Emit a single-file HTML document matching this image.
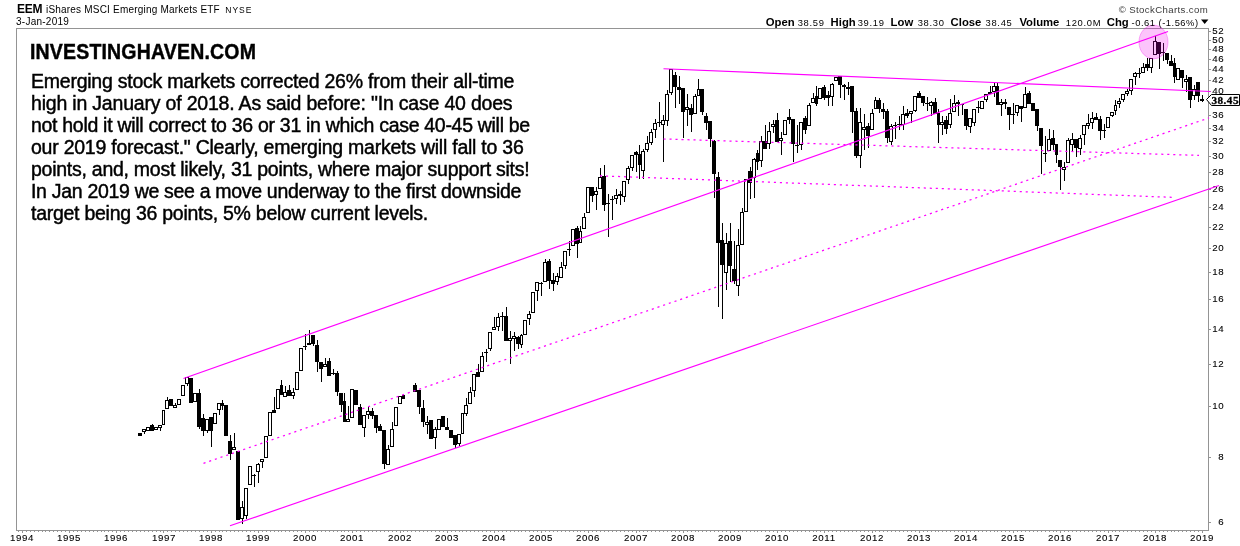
<!DOCTYPE html>
<html lang="en"><head><meta charset="utf-8"><title>EEM iShares MSCI Emerging Markets ETF</title>
<style>
html,body{margin:0;padding:0;background:#fff;}
body{width:1240px;height:546px;position:relative;overflow:hidden;font-family:"Liberation Sans",Arial,sans-serif;color:#000;}
svg{position:absolute;left:0;top:0;}
.t{position:absolute;white-space:nowrap;line-height:1;}
#hdr1{left:17px;top:3px;font-size:11px;}
#hdr1 b{font-size:12.5px;letter-spacing:-0.2px;}
#hdr1 .ex{font-size:8.5px;letter-spacing:1px;margin-left:4px;}
#hdr2{left:16px;top:17px;font-size:10px;letter-spacing:0.25px;}
#copy{right:32px;top:4px;font-size:10px;color:#555;letter-spacing:0.55px;}
#ohlc{right:31px;top:16px;font-size:10.5px;}
#ohlc b{font-size:11px;}
#ohlc span{margin-left:5px;}
#title{left:30px;top:41px;font-size:19.5px;font-weight:bold;letter-spacing:0.18px;-webkit-text-stroke:0.4px #000;transform:scaleY(1.10);transform-origin:0 0;}
.ln{position:absolute;left:31px;font-size:19.5px;line-height:21.85px;white-space:nowrap;-webkit-text-stroke:0.45px #000;}
</style></head><body>
<svg width="1240" height="546" viewBox="0 0 1240 546">
<rect width="1240" height="546" fill="#fff"/>
<g shape-rendering="crispEdges" fill="#949494">
<rect x="16" y="28" width="1193" height="1"/>
<rect x="16" y="530" width="1193" height="1"/>
<rect x="16" y="28" width="1" height="503"/>
<rect x="1208" y="28" width="1" height="503"/>
<rect x="18" y="531" width="1" height="1"/>
<rect x="22" y="531" width="1" height="2"/>
<rect x="26" y="531" width="1" height="1"/>
<rect x="30" y="531" width="1" height="1"/>
<rect x="34" y="531" width="1" height="1"/>
<rect x="38" y="531" width="1" height="1"/>
<rect x="42" y="531" width="1" height="1"/>
<rect x="45" y="531" width="1" height="1"/>
<rect x="49" y="531" width="1" height="1"/>
<rect x="53" y="531" width="1" height="1"/>
<rect x="57" y="531" width="1" height="1"/>
<rect x="61" y="531" width="1" height="1"/>
<rect x="65" y="531" width="1" height="1"/>
<rect x="69" y="531" width="1" height="2"/>
<rect x="73" y="531" width="1" height="1"/>
<rect x="77" y="531" width="1" height="1"/>
<rect x="81" y="531" width="1" height="1"/>
<rect x="85" y="531" width="1" height="1"/>
<rect x="89" y="531" width="1" height="1"/>
<rect x="93" y="531" width="1" height="1"/>
<rect x="97" y="531" width="1" height="1"/>
<rect x="101" y="531" width="1" height="1"/>
<rect x="104" y="531" width="1" height="1"/>
<rect x="108" y="531" width="1" height="1"/>
<rect x="112" y="531" width="1" height="1"/>
<rect x="116" y="531" width="1" height="2"/>
<rect x="120" y="531" width="1" height="1"/>
<rect x="124" y="531" width="1" height="1"/>
<rect x="128" y="531" width="1" height="1"/>
<rect x="132" y="531" width="1" height="1"/>
<rect x="136" y="531" width="1" height="1"/>
<rect x="140" y="531" width="1" height="1"/>
<rect x="144" y="531" width="1" height="1"/>
<rect x="148" y="531" width="1" height="1"/>
<rect x="152" y="531" width="1" height="1"/>
<rect x="156" y="531" width="1" height="1"/>
<rect x="160" y="531" width="1" height="1"/>
<rect x="163" y="531" width="1" height="2"/>
<rect x="167" y="531" width="1" height="1"/>
<rect x="171" y="531" width="1" height="1"/>
<rect x="175" y="531" width="1" height="1"/>
<rect x="179" y="531" width="1" height="1"/>
<rect x="183" y="531" width="1" height="1"/>
<rect x="187" y="531" width="1" height="1"/>
<rect x="191" y="531" width="1" height="1"/>
<rect x="195" y="531" width="1" height="1"/>
<rect x="199" y="531" width="1" height="1"/>
<rect x="203" y="531" width="1" height="1"/>
<rect x="207" y="531" width="1" height="1"/>
<rect x="211" y="531" width="1" height="2"/>
<rect x="215" y="531" width="1" height="1"/>
<rect x="219" y="531" width="1" height="1"/>
<rect x="222" y="531" width="1" height="1"/>
<rect x="226" y="531" width="1" height="1"/>
<rect x="230" y="531" width="1" height="1"/>
<rect x="234" y="531" width="1" height="1"/>
<rect x="238" y="531" width="1" height="1"/>
<rect x="242" y="531" width="1" height="1"/>
<rect x="246" y="531" width="1" height="1"/>
<rect x="250" y="531" width="1" height="1"/>
<rect x="254" y="531" width="1" height="1"/>
<rect x="258" y="531" width="1" height="2"/>
<rect x="262" y="531" width="1" height="1"/>
<rect x="266" y="531" width="1" height="1"/>
<rect x="270" y="531" width="1" height="1"/>
<rect x="274" y="531" width="1" height="1"/>
<rect x="278" y="531" width="1" height="1"/>
<rect x="281" y="531" width="1" height="1"/>
<rect x="285" y="531" width="1" height="1"/>
<rect x="289" y="531" width="1" height="1"/>
<rect x="293" y="531" width="1" height="1"/>
<rect x="297" y="531" width="1" height="1"/>
<rect x="301" y="531" width="1" height="1"/>
<rect x="305" y="531" width="1" height="2"/>
<rect x="309" y="531" width="1" height="1"/>
<rect x="313" y="531" width="1" height="1"/>
<rect x="317" y="531" width="1" height="1"/>
<rect x="321" y="531" width="1" height="1"/>
<rect x="325" y="531" width="1" height="1"/>
<rect x="329" y="531" width="1" height="1"/>
<rect x="333" y="531" width="1" height="1"/>
<rect x="337" y="531" width="1" height="1"/>
<rect x="341" y="531" width="1" height="1"/>
<rect x="344" y="531" width="1" height="1"/>
<rect x="348" y="531" width="1" height="1"/>
<rect x="352" y="531" width="1" height="2"/>
<rect x="356" y="531" width="1" height="1"/>
<rect x="360" y="531" width="1" height="1"/>
<rect x="364" y="531" width="1" height="1"/>
<rect x="368" y="531" width="1" height="1"/>
<rect x="372" y="531" width="1" height="1"/>
<rect x="376" y="531" width="1" height="1"/>
<rect x="380" y="531" width="1" height="1"/>
<rect x="384" y="531" width="1" height="1"/>
<rect x="388" y="531" width="1" height="1"/>
<rect x="392" y="531" width="1" height="1"/>
<rect x="396" y="531" width="1" height="1"/>
<rect x="400" y="531" width="1" height="2"/>
<rect x="403" y="531" width="1" height="1"/>
<rect x="407" y="531" width="1" height="1"/>
<rect x="411" y="531" width="1" height="1"/>
<rect x="415" y="531" width="1" height="1"/>
<rect x="419" y="531" width="1" height="1"/>
<rect x="423" y="531" width="1" height="1"/>
<rect x="427" y="531" width="1" height="1"/>
<rect x="431" y="531" width="1" height="1"/>
<rect x="435" y="531" width="1" height="1"/>
<rect x="439" y="531" width="1" height="1"/>
<rect x="443" y="531" width="1" height="1"/>
<rect x="447" y="531" width="1" height="2"/>
<rect x="451" y="531" width="1" height="1"/>
<rect x="455" y="531" width="1" height="1"/>
<rect x="459" y="531" width="1" height="1"/>
<rect x="462" y="531" width="1" height="1"/>
<rect x="466" y="531" width="1" height="1"/>
<rect x="470" y="531" width="1" height="1"/>
<rect x="474" y="531" width="1" height="1"/>
<rect x="478" y="531" width="1" height="1"/>
<rect x="482" y="531" width="1" height="1"/>
<rect x="486" y="531" width="1" height="1"/>
<rect x="490" y="531" width="1" height="1"/>
<rect x="494" y="531" width="1" height="2"/>
<rect x="498" y="531" width="1" height="1"/>
<rect x="502" y="531" width="1" height="1"/>
<rect x="506" y="531" width="1" height="1"/>
<rect x="510" y="531" width="1" height="1"/>
<rect x="514" y="531" width="1" height="1"/>
<rect x="518" y="531" width="1" height="1"/>
<rect x="521" y="531" width="1" height="1"/>
<rect x="525" y="531" width="1" height="1"/>
<rect x="529" y="531" width="1" height="1"/>
<rect x="533" y="531" width="1" height="1"/>
<rect x="537" y="531" width="1" height="1"/>
<rect x="541" y="531" width="1" height="2"/>
<rect x="545" y="531" width="1" height="1"/>
<rect x="549" y="531" width="1" height="1"/>
<rect x="553" y="531" width="1" height="1"/>
<rect x="557" y="531" width="1" height="1"/>
<rect x="561" y="531" width="1" height="1"/>
<rect x="565" y="531" width="1" height="1"/>
<rect x="569" y="531" width="1" height="1"/>
<rect x="573" y="531" width="1" height="1"/>
<rect x="577" y="531" width="1" height="1"/>
<rect x="580" y="531" width="1" height="1"/>
<rect x="584" y="531" width="1" height="1"/>
<rect x="588" y="531" width="1" height="2"/>
<rect x="592" y="531" width="1" height="1"/>
<rect x="596" y="531" width="1" height="1"/>
<rect x="600" y="531" width="1" height="1"/>
<rect x="604" y="531" width="1" height="1"/>
<rect x="608" y="531" width="1" height="1"/>
<rect x="612" y="531" width="1" height="1"/>
<rect x="616" y="531" width="1" height="1"/>
<rect x="620" y="531" width="1" height="1"/>
<rect x="624" y="531" width="1" height="1"/>
<rect x="628" y="531" width="1" height="1"/>
<rect x="632" y="531" width="1" height="1"/>
<rect x="636" y="531" width="1" height="2"/>
<rect x="639" y="531" width="1" height="1"/>
<rect x="643" y="531" width="1" height="1"/>
<rect x="647" y="531" width="1" height="1"/>
<rect x="651" y="531" width="1" height="1"/>
<rect x="655" y="531" width="1" height="1"/>
<rect x="659" y="531" width="1" height="1"/>
<rect x="663" y="531" width="1" height="1"/>
<rect x="667" y="531" width="1" height="1"/>
<rect x="671" y="531" width="1" height="1"/>
<rect x="675" y="531" width="1" height="1"/>
<rect x="679" y="531" width="1" height="1"/>
<rect x="683" y="531" width="1" height="2"/>
<rect x="687" y="531" width="1" height="1"/>
<rect x="691" y="531" width="1" height="1"/>
<rect x="695" y="531" width="1" height="1"/>
<rect x="698" y="531" width="1" height="1"/>
<rect x="702" y="531" width="1" height="1"/>
<rect x="706" y="531" width="1" height="1"/>
<rect x="710" y="531" width="1" height="1"/>
<rect x="714" y="531" width="1" height="1"/>
<rect x="718" y="531" width="1" height="1"/>
<rect x="722" y="531" width="1" height="1"/>
<rect x="726" y="531" width="1" height="1"/>
<rect x="730" y="531" width="1" height="2"/>
<rect x="734" y="531" width="1" height="1"/>
<rect x="738" y="531" width="1" height="1"/>
<rect x="742" y="531" width="1" height="1"/>
<rect x="746" y="531" width="1" height="1"/>
<rect x="750" y="531" width="1" height="1"/>
<rect x="754" y="531" width="1" height="1"/>
<rect x="757" y="531" width="1" height="1"/>
<rect x="761" y="531" width="1" height="1"/>
<rect x="765" y="531" width="1" height="1"/>
<rect x="769" y="531" width="1" height="1"/>
<rect x="773" y="531" width="1" height="1"/>
<rect x="777" y="531" width="1" height="2"/>
<rect x="781" y="531" width="1" height="1"/>
<rect x="785" y="531" width="1" height="1"/>
<rect x="789" y="531" width="1" height="1"/>
<rect x="793" y="531" width="1" height="1"/>
<rect x="797" y="531" width="1" height="1"/>
<rect x="801" y="531" width="1" height="1"/>
<rect x="805" y="531" width="1" height="1"/>
<rect x="809" y="531" width="1" height="1"/>
<rect x="813" y="531" width="1" height="1"/>
<rect x="816" y="531" width="1" height="1"/>
<rect x="820" y="531" width="1" height="1"/>
<rect x="824" y="531" width="1" height="2"/>
<rect x="828" y="531" width="1" height="1"/>
<rect x="832" y="531" width="1" height="1"/>
<rect x="836" y="531" width="1" height="1"/>
<rect x="840" y="531" width="1" height="1"/>
<rect x="844" y="531" width="1" height="1"/>
<rect x="848" y="531" width="1" height="1"/>
<rect x="852" y="531" width="1" height="1"/>
<rect x="856" y="531" width="1" height="1"/>
<rect x="860" y="531" width="1" height="1"/>
<rect x="864" y="531" width="1" height="1"/>
<rect x="868" y="531" width="1" height="1"/>
<rect x="872" y="531" width="1" height="2"/>
<rect x="875" y="531" width="1" height="1"/>
<rect x="879" y="531" width="1" height="1"/>
<rect x="883" y="531" width="1" height="1"/>
<rect x="887" y="531" width="1" height="1"/>
<rect x="891" y="531" width="1" height="1"/>
<rect x="895" y="531" width="1" height="1"/>
<rect x="899" y="531" width="1" height="1"/>
<rect x="903" y="531" width="1" height="1"/>
<rect x="907" y="531" width="1" height="1"/>
<rect x="911" y="531" width="1" height="1"/>
<rect x="915" y="531" width="1" height="1"/>
<rect x="919" y="531" width="1" height="2"/>
<rect x="923" y="531" width="1" height="1"/>
<rect x="927" y="531" width="1" height="1"/>
<rect x="931" y="531" width="1" height="1"/>
<rect x="935" y="531" width="1" height="1"/>
<rect x="938" y="531" width="1" height="1"/>
<rect x="942" y="531" width="1" height="1"/>
<rect x="946" y="531" width="1" height="1"/>
<rect x="950" y="531" width="1" height="1"/>
<rect x="954" y="531" width="1" height="1"/>
<rect x="958" y="531" width="1" height="1"/>
<rect x="962" y="531" width="1" height="1"/>
<rect x="966" y="531" width="1" height="2"/>
<rect x="970" y="531" width="1" height="1"/>
<rect x="974" y="531" width="1" height="1"/>
<rect x="978" y="531" width="1" height="1"/>
<rect x="982" y="531" width="1" height="1"/>
<rect x="986" y="531" width="1" height="1"/>
<rect x="990" y="531" width="1" height="1"/>
<rect x="994" y="531" width="1" height="1"/>
<rect x="997" y="531" width="1" height="1"/>
<rect x="1001" y="531" width="1" height="1"/>
<rect x="1005" y="531" width="1" height="1"/>
<rect x="1009" y="531" width="1" height="1"/>
<rect x="1013" y="531" width="1" height="2"/>
<rect x="1017" y="531" width="1" height="1"/>
<rect x="1021" y="531" width="1" height="1"/>
<rect x="1025" y="531" width="1" height="1"/>
<rect x="1029" y="531" width="1" height="1"/>
<rect x="1033" y="531" width="1" height="1"/>
<rect x="1037" y="531" width="1" height="1"/>
<rect x="1041" y="531" width="1" height="1"/>
<rect x="1045" y="531" width="1" height="1"/>
<rect x="1049" y="531" width="1" height="1"/>
<rect x="1053" y="531" width="1" height="1"/>
<rect x="1056" y="531" width="1" height="1"/>
<rect x="1060" y="531" width="1" height="2"/>
<rect x="1064" y="531" width="1" height="1"/>
<rect x="1068" y="531" width="1" height="1"/>
<rect x="1072" y="531" width="1" height="1"/>
<rect x="1076" y="531" width="1" height="1"/>
<rect x="1080" y="531" width="1" height="1"/>
<rect x="1084" y="531" width="1" height="1"/>
<rect x="1088" y="531" width="1" height="1"/>
<rect x="1092" y="531" width="1" height="1"/>
<rect x="1096" y="531" width="1" height="1"/>
<rect x="1100" y="531" width="1" height="1"/>
<rect x="1104" y="531" width="1" height="1"/>
<rect x="1108" y="531" width="1" height="2"/>
<rect x="1112" y="531" width="1" height="1"/>
<rect x="1115" y="531" width="1" height="1"/>
<rect x="1119" y="531" width="1" height="1"/>
<rect x="1123" y="531" width="1" height="1"/>
<rect x="1127" y="531" width="1" height="1"/>
<rect x="1131" y="531" width="1" height="1"/>
<rect x="1135" y="531" width="1" height="1"/>
<rect x="1139" y="531" width="1" height="1"/>
<rect x="1143" y="531" width="1" height="1"/>
<rect x="1147" y="531" width="1" height="1"/>
<rect x="1151" y="531" width="1" height="1"/>
<rect x="1155" y="531" width="1" height="2"/>
<rect x="1159" y="531" width="1" height="1"/>
<rect x="1163" y="531" width="1" height="1"/>
<rect x="1167" y="531" width="1" height="1"/>
<rect x="1171" y="531" width="1" height="1"/>
<rect x="1174" y="531" width="1" height="1"/>
<rect x="1178" y="531" width="1" height="1"/>
<rect x="1182" y="531" width="1" height="1"/>
<rect x="1186" y="531" width="1" height="1"/>
<rect x="1190" y="531" width="1" height="1"/>
<rect x="1194" y="531" width="1" height="1"/>
<rect x="1198" y="531" width="1" height="1"/>
<rect x="1202" y="531" width="1" height="2"/>
<rect x="1209" y="31" width="2" height="1"/>
<rect x="1209" y="40" width="2" height="1"/>
<rect x="1209" y="49" width="2" height="1"/>
<rect x="1209" y="59" width="2" height="1"/>
<rect x="1209" y="69" width="2" height="1"/>
<rect x="1209" y="80" width="2" height="1"/>
<rect x="1209" y="91" width="2" height="1"/>
<rect x="1209" y="115" width="2" height="1"/>
<rect x="1209" y="128" width="2" height="1"/>
<rect x="1209" y="141" width="2" height="1"/>
<rect x="1209" y="156" width="2" height="1"/>
<rect x="1209" y="172" width="2" height="1"/>
<rect x="1209" y="189" width="2" height="1"/>
<rect x="1209" y="207" width="2" height="1"/>
<rect x="1209" y="227" width="2" height="1"/>
<rect x="1209" y="248" width="2" height="1"/>
<rect x="1209" y="272" width="2" height="1"/>
<rect x="1209" y="299" width="2" height="1"/>
<rect x="1209" y="329" width="2" height="1"/>
<rect x="1209" y="364" width="2" height="1"/>
<rect x="1209" y="406" width="2" height="1"/>
<rect x="1209" y="457" width="2" height="1"/>
<rect x="1209" y="522" width="2" height="1"/>
</g>
<g font-family="Liberation Sans, Arial, sans-serif" font-size="9.7" fill="#000" stroke="#000" stroke-width="0.1" letter-spacing="0.65" text-anchor="end">
<text x="1224.3" y="34.0">52</text>
<text x="1224.3" y="43.0">50</text>
<text x="1224.3" y="52.0">48</text>
<text x="1224.3" y="62.0">46</text>
<text x="1224.3" y="72.0">44</text>
<text x="1224.3" y="83.0">42</text>
<text x="1224.3" y="94.0">40</text>
<text x="1224.3" y="118.0">36</text>
<text x="1224.3" y="131.0">34</text>
<text x="1224.3" y="144.0">32</text>
<text x="1224.3" y="159.0">30</text>
<text x="1224.3" y="175.0">28</text>
<text x="1224.3" y="192.0">26</text>
<text x="1224.3" y="210.0">24</text>
<text x="1224.3" y="230.0">22</text>
<text x="1224.3" y="251.0">20</text>
<text x="1224.3" y="275.0">18</text>
<text x="1224.3" y="302.0">16</text>
<text x="1224.3" y="332.0">14</text>
<text x="1224.3" y="367.0">12</text>
<text x="1224.3" y="409.0">10</text>
<text x="1224.3" y="460.0">8</text>
<text x="1224.3" y="525.0">6</text>
</g>
<g font-family="Liberation Sans, Arial, sans-serif" font-size="9.7" fill="#000" stroke="#000" stroke-width="0.1" text-anchor="middle" letter-spacing="0.65">
<text x="22.0" y="541">1994</text>
<text x="69.0" y="541">1995</text>
<text x="116.0" y="541">1996</text>
<text x="164.0" y="541">1997</text>
<text x="211.0" y="541">1998</text>
<text x="258.0" y="541">1999</text>
<text x="305.0" y="541">2000</text>
<text x="352.0" y="541">2001</text>
<text x="400.0" y="541">2002</text>
<text x="447.0" y="541">2003</text>
<text x="494.0" y="541">2004</text>
<text x="541.0" y="541">2005</text>
<text x="588.0" y="541">2006</text>
<text x="636.0" y="541">2007</text>
<text x="683.0" y="541">2008</text>
<text x="730.0" y="541">2009</text>
<text x="777.0" y="541">2010</text>
<text x="824.0" y="541">2011</text>
<text x="872.0" y="541">2012</text>
<text x="919.0" y="541">2013</text>
<text x="966.0" y="541">2014</text>
<text x="1013.0" y="541">2015</text>
<text x="1060.0" y="541">2016</text>
<text x="1108.0" y="541">2017</text>
<text x="1155.0" y="541">2018</text>
<text x="1202.0" y="541">2019</text>
</g>
<g shape-rendering="crispEdges">
<rect x="140" y="433" width="1" height="3" fill="#000"/>
<rect x="138" y="433" width="4" height="3" fill="#000"/>
<rect x="144" y="429" width="1" height="5" fill="#000"/>
<rect x="142" y="429" width="4" height="3" fill="#000"/>
<rect x="143" y="430" width="2" height="1" fill="#fff"/>
<rect x="148" y="427" width="1" height="4" fill="#000"/>
<rect x="146" y="427" width="4" height="4" fill="#000"/>
<rect x="147" y="428" width="2" height="2" fill="#fff"/>
<rect x="152" y="424" width="1" height="7" fill="#000"/>
<rect x="150" y="425" width="4" height="6" fill="#000"/>
<rect x="156" y="427" width="1" height="3" fill="#000"/>
<rect x="154" y="427" width="4" height="3" fill="#000"/>
<rect x="155" y="428" width="2" height="1" fill="#fff"/>
<rect x="160" y="425" width="1" height="6" fill="#000"/>
<rect x="158" y="425" width="4" height="3" fill="#000"/>
<rect x="159" y="426" width="2" height="1" fill="#fff"/>
<rect x="163" y="410" width="1" height="15" fill="#000"/>
<rect x="162" y="410" width="3" height="15" fill="#000"/>
<rect x="163" y="411" width="1" height="13" fill="#fff"/>
<rect x="167" y="397" width="1" height="12" fill="#000"/>
<rect x="165" y="400" width="4" height="9" fill="#000"/>
<rect x="166" y="401" width="2" height="7" fill="#fff"/>
<rect x="171" y="399" width="1" height="7" fill="#000"/>
<rect x="169" y="399" width="4" height="7" fill="#000"/>
<rect x="175" y="403" width="1" height="5" fill="#000"/>
<rect x="173" y="405" width="4" height="3" fill="#000"/>
<rect x="174" y="406" width="2" height="1" fill="#fff"/>
<rect x="179" y="399" width="1" height="6" fill="#000"/>
<rect x="177" y="399" width="4" height="6" fill="#000"/>
<rect x="178" y="400" width="2" height="4" fill="#fff"/>
<rect x="183" y="385" width="1" height="11" fill="#000"/>
<rect x="181" y="385" width="4" height="11" fill="#000"/>
<rect x="182" y="386" width="2" height="9" fill="#fff"/>
<rect x="187" y="377" width="1" height="9" fill="#000"/>
<rect x="185" y="377" width="4" height="7" fill="#000"/>
<rect x="186" y="378" width="2" height="5" fill="#fff"/>
<rect x="191" y="378" width="1" height="25" fill="#000"/>
<rect x="189" y="378" width="4" height="25" fill="#000"/>
<rect x="195" y="393" width="1" height="9" fill="#000"/>
<rect x="193" y="393" width="4" height="9" fill="#000"/>
<rect x="194" y="394" width="2" height="7" fill="#fff"/>
<rect x="199" y="389" width="1" height="40" fill="#000"/>
<rect x="197" y="393" width="4" height="34" fill="#000"/>
<rect x="203" y="414" width="1" height="22" fill="#000"/>
<rect x="201" y="418" width="4" height="13" fill="#000"/>
<rect x="207" y="419" width="1" height="14" fill="#000"/>
<rect x="205" y="419" width="4" height="12" fill="#000"/>
<rect x="206" y="420" width="2" height="10" fill="#fff"/>
<rect x="211" y="417" width="1" height="30" fill="#000"/>
<rect x="209" y="417" width="4" height="14" fill="#000"/>
<rect x="215" y="413" width="1" height="11" fill="#000"/>
<rect x="213" y="413" width="4" height="11" fill="#000"/>
<rect x="214" y="414" width="2" height="9" fill="#fff"/>
<rect x="219" y="403" width="1" height="12" fill="#000"/>
<rect x="217" y="403" width="4" height="7" fill="#000"/>
<rect x="218" y="404" width="2" height="5" fill="#fff"/>
<rect x="222" y="400" width="1" height="10" fill="#000"/>
<rect x="221" y="403" width="3" height="3" fill="#000"/>
<rect x="226" y="405" width="1" height="31" fill="#000"/>
<rect x="224" y="405" width="4" height="31" fill="#000"/>
<rect x="230" y="435" width="1" height="25" fill="#000"/>
<rect x="228" y="441" width="4" height="13" fill="#000"/>
<rect x="234" y="433" width="1" height="17" fill="#000"/>
<rect x="232" y="447" width="4" height="3" fill="#000"/>
<rect x="233" y="448" width="2" height="1" fill="#fff"/>
<rect x="238" y="451" width="1" height="69" fill="#000"/>
<rect x="236" y="451" width="4" height="69" fill="#000"/>
<rect x="242" y="501" width="1" height="23" fill="#000"/>
<rect x="240" y="507" width="4" height="12" fill="#000"/>
<rect x="241" y="508" width="2" height="10" fill="#fff"/>
<rect x="246" y="488" width="1" height="31" fill="#000"/>
<rect x="244" y="488" width="4" height="28" fill="#000"/>
<rect x="245" y="489" width="2" height="26" fill="#fff"/>
<rect x="250" y="466" width="1" height="19" fill="#000"/>
<rect x="248" y="466" width="4" height="19" fill="#000"/>
<rect x="249" y="467" width="2" height="17" fill="#fff"/>
<rect x="254" y="474" width="1" height="13" fill="#000"/>
<rect x="252" y="475" width="4" height="1" fill="#000"/>
<rect x="258" y="463" width="1" height="20" fill="#000"/>
<rect x="256" y="464" width="4" height="8" fill="#000"/>
<rect x="257" y="465" width="2" height="6" fill="#fff"/>
<rect x="262" y="459" width="1" height="9" fill="#000"/>
<rect x="260" y="459" width="4" height="3" fill="#000"/>
<rect x="261" y="460" width="2" height="1" fill="#fff"/>
<rect x="266" y="436" width="1" height="22" fill="#000"/>
<rect x="264" y="436" width="4" height="22" fill="#000"/>
<rect x="265" y="437" width="2" height="20" fill="#fff"/>
<rect x="270" y="412" width="1" height="24" fill="#000"/>
<rect x="268" y="412" width="4" height="24" fill="#000"/>
<rect x="269" y="413" width="2" height="22" fill="#fff"/>
<rect x="274" y="397" width="1" height="16" fill="#000"/>
<rect x="272" y="410" width="4" height="3" fill="#000"/>
<rect x="278" y="389" width="1" height="20" fill="#000"/>
<rect x="276" y="389" width="4" height="20" fill="#000"/>
<rect x="277" y="390" width="2" height="18" fill="#fff"/>
<rect x="281" y="380" width="1" height="15" fill="#000"/>
<rect x="280" y="385" width="3" height="10" fill="#000"/>
<rect x="285" y="386" width="1" height="11" fill="#000"/>
<rect x="283" y="392" width="4" height="5" fill="#000"/>
<rect x="284" y="393" width="2" height="3" fill="#fff"/>
<rect x="289" y="385" width="1" height="11" fill="#000"/>
<rect x="287" y="390" width="4" height="6" fill="#000"/>
<rect x="293" y="388" width="1" height="11" fill="#000"/>
<rect x="291" y="392" width="4" height="4" fill="#000"/>
<rect x="292" y="393" width="2" height="2" fill="#fff"/>
<rect x="297" y="372" width="1" height="18" fill="#000"/>
<rect x="295" y="372" width="4" height="18" fill="#000"/>
<rect x="296" y="373" width="2" height="16" fill="#fff"/>
<rect x="301" y="348" width="1" height="23" fill="#000"/>
<rect x="299" y="348" width="4" height="23" fill="#000"/>
<rect x="300" y="349" width="2" height="21" fill="#fff"/>
<rect x="305" y="334" width="1" height="16" fill="#000"/>
<rect x="303" y="346" width="4" height="1" fill="#000"/>
<rect x="309" y="330" width="1" height="15" fill="#000"/>
<rect x="307" y="343" width="4" height="2" fill="#000"/>
<rect x="313" y="335" width="1" height="11" fill="#000"/>
<rect x="311" y="335" width="4" height="9" fill="#000"/>
<rect x="317" y="340" width="1" height="32" fill="#000"/>
<rect x="315" y="345" width="4" height="17" fill="#000"/>
<rect x="321" y="362" width="1" height="20" fill="#000"/>
<rect x="319" y="362" width="4" height="7" fill="#000"/>
<rect x="325" y="358" width="1" height="9" fill="#000"/>
<rect x="323" y="364" width="4" height="3" fill="#000"/>
<rect x="324" y="365" width="2" height="1" fill="#fff"/>
<rect x="329" y="358" width="1" height="18" fill="#000"/>
<rect x="327" y="361" width="4" height="15" fill="#000"/>
<rect x="333" y="369" width="1" height="6" fill="#000"/>
<rect x="331" y="373" width="4" height="1" fill="#000"/>
<rect x="337" y="371" width="1" height="25" fill="#000"/>
<rect x="335" y="373" width="4" height="19" fill="#000"/>
<rect x="341" y="393" width="1" height="19" fill="#000"/>
<rect x="339" y="393" width="4" height="12" fill="#000"/>
<rect x="344" y="393" width="1" height="29" fill="#000"/>
<rect x="343" y="401" width="3" height="21" fill="#000"/>
<rect x="348" y="406" width="1" height="16" fill="#000"/>
<rect x="346" y="419" width="4" height="3" fill="#000"/>
<rect x="347" y="420" width="2" height="1" fill="#fff"/>
<rect x="352" y="389" width="1" height="29" fill="#000"/>
<rect x="350" y="389" width="4" height="29" fill="#000"/>
<rect x="351" y="390" width="2" height="27" fill="#fff"/>
<rect x="356" y="390" width="1" height="15" fill="#000"/>
<rect x="354" y="390" width="4" height="15" fill="#000"/>
<rect x="360" y="404" width="1" height="21" fill="#000"/>
<rect x="358" y="407" width="4" height="18" fill="#000"/>
<rect x="364" y="415" width="1" height="22" fill="#000"/>
<rect x="362" y="415" width="4" height="13" fill="#000"/>
<rect x="363" y="416" width="2" height="11" fill="#fff"/>
<rect x="368" y="407" width="1" height="12" fill="#000"/>
<rect x="366" y="411" width="4" height="4" fill="#000"/>
<rect x="367" y="412" width="2" height="2" fill="#fff"/>
<rect x="372" y="408" width="1" height="11" fill="#000"/>
<rect x="370" y="411" width="4" height="5" fill="#000"/>
<rect x="376" y="415" width="1" height="18" fill="#000"/>
<rect x="374" y="415" width="4" height="13" fill="#000"/>
<rect x="380" y="424" width="1" height="7" fill="#000"/>
<rect x="378" y="426" width="4" height="5" fill="#000"/>
<rect x="384" y="430" width="1" height="39" fill="#000"/>
<rect x="382" y="430" width="4" height="34" fill="#000"/>
<rect x="388" y="445" width="1" height="20" fill="#000"/>
<rect x="386" y="449" width="4" height="16" fill="#000"/>
<rect x="387" y="450" width="2" height="14" fill="#fff"/>
<rect x="392" y="422" width="1" height="25" fill="#000"/>
<rect x="390" y="429" width="4" height="18" fill="#000"/>
<rect x="391" y="430" width="2" height="16" fill="#fff"/>
<rect x="396" y="407" width="1" height="19" fill="#000"/>
<rect x="394" y="407" width="4" height="19" fill="#000"/>
<rect x="395" y="408" width="2" height="17" fill="#fff"/>
<rect x="400" y="396" width="1" height="8" fill="#000"/>
<rect x="398" y="396" width="4" height="8" fill="#000"/>
<rect x="399" y="397" width="2" height="6" fill="#fff"/>
<rect x="403" y="395" width="1" height="4" fill="#000"/>
<rect x="402" y="395" width="3" height="4" fill="#000"/>
<rect x="415" y="383" width="1" height="9" fill="#000"/>
<rect x="413" y="385" width="4" height="7" fill="#000"/>
<rect x="419" y="390" width="1" height="24" fill="#000"/>
<rect x="417" y="390" width="4" height="17" fill="#000"/>
<rect x="423" y="400" width="1" height="27" fill="#000"/>
<rect x="421" y="408" width="4" height="14" fill="#000"/>
<rect x="427" y="416" width="1" height="18" fill="#000"/>
<rect x="425" y="422" width="4" height="3" fill="#000"/>
<rect x="426" y="423" width="2" height="1" fill="#fff"/>
<rect x="431" y="420" width="1" height="19" fill="#000"/>
<rect x="429" y="420" width="4" height="19" fill="#000"/>
<rect x="435" y="427" width="1" height="22" fill="#000"/>
<rect x="433" y="429" width="4" height="9" fill="#000"/>
<rect x="434" y="430" width="2" height="7" fill="#fff"/>
<rect x="439" y="419" width="1" height="11" fill="#000"/>
<rect x="437" y="419" width="4" height="11" fill="#000"/>
<rect x="438" y="420" width="2" height="9" fill="#fff"/>
<rect x="443" y="416" width="1" height="11" fill="#000"/>
<rect x="441" y="416" width="4" height="11" fill="#000"/>
<rect x="447" y="418" width="1" height="12" fill="#000"/>
<rect x="445" y="427" width="4" height="3" fill="#000"/>
<rect x="451" y="430" width="1" height="8" fill="#000"/>
<rect x="449" y="430" width="4" height="8" fill="#000"/>
<rect x="455" y="435" width="1" height="13" fill="#000"/>
<rect x="453" y="435" width="4" height="10" fill="#000"/>
<rect x="459" y="434" width="1" height="12" fill="#000"/>
<rect x="457" y="434" width="4" height="10" fill="#000"/>
<rect x="458" y="435" width="2" height="8" fill="#fff"/>
<rect x="462" y="413" width="1" height="21" fill="#000"/>
<rect x="461" y="413" width="3" height="21" fill="#000"/>
<rect x="462" y="414" width="1" height="19" fill="#fff"/>
<rect x="466" y="398" width="1" height="18" fill="#000"/>
<rect x="464" y="405" width="4" height="9" fill="#000"/>
<rect x="465" y="406" width="2" height="7" fill="#fff"/>
<rect x="470" y="387" width="1" height="17" fill="#000"/>
<rect x="468" y="392" width="4" height="12" fill="#000"/>
<rect x="469" y="393" width="2" height="10" fill="#fff"/>
<rect x="474" y="374" width="1" height="23" fill="#000"/>
<rect x="472" y="374" width="4" height="17" fill="#000"/>
<rect x="473" y="375" width="2" height="15" fill="#fff"/>
<rect x="478" y="364" width="1" height="13" fill="#000"/>
<rect x="476" y="372" width="4" height="5" fill="#000"/>
<rect x="482" y="352" width="1" height="20" fill="#000"/>
<rect x="480" y="356" width="4" height="16" fill="#000"/>
<rect x="481" y="357" width="2" height="14" fill="#fff"/>
<rect x="486" y="349" width="1" height="13" fill="#000"/>
<rect x="484" y="352" width="4" height="1" fill="#000"/>
<rect x="490" y="332" width="1" height="19" fill="#000"/>
<rect x="488" y="332" width="4" height="17" fill="#000"/>
<rect x="489" y="333" width="2" height="15" fill="#fff"/>
<rect x="494" y="317" width="1" height="13" fill="#000"/>
<rect x="492" y="327" width="4" height="3" fill="#000"/>
<rect x="493" y="328" width="2" height="1" fill="#fff"/>
<rect x="498" y="313" width="1" height="18" fill="#000"/>
<rect x="496" y="317" width="4" height="10" fill="#000"/>
<rect x="497" y="318" width="2" height="8" fill="#fff"/>
<rect x="502" y="312" width="1" height="19" fill="#000"/>
<rect x="500" y="316" width="4" height="1" fill="#000"/>
<rect x="506" y="307" width="1" height="34" fill="#000"/>
<rect x="504" y="316" width="4" height="25" fill="#000"/>
<rect x="510" y="331" width="1" height="33" fill="#000"/>
<rect x="508" y="338" width="4" height="3" fill="#000"/>
<rect x="509" y="339" width="2" height="1" fill="#fff"/>
<rect x="514" y="332" width="1" height="19" fill="#000"/>
<rect x="512" y="336" width="4" height="3" fill="#000"/>
<rect x="513" y="337" width="2" height="1" fill="#fff"/>
<rect x="518" y="336" width="1" height="13" fill="#000"/>
<rect x="516" y="337" width="4" height="7" fill="#000"/>
<rect x="521" y="334" width="1" height="14" fill="#000"/>
<rect x="520" y="335" width="3" height="10" fill="#000"/>
<rect x="521" y="336" width="1" height="8" fill="#fff"/>
<rect x="525" y="320" width="1" height="15" fill="#000"/>
<rect x="523" y="320" width="4" height="15" fill="#000"/>
<rect x="524" y="321" width="2" height="13" fill="#fff"/>
<rect x="529" y="311" width="1" height="14" fill="#000"/>
<rect x="527" y="314" width="4" height="5" fill="#000"/>
<rect x="528" y="315" width="2" height="3" fill="#fff"/>
<rect x="533" y="292" width="1" height="21" fill="#000"/>
<rect x="531" y="292" width="4" height="21" fill="#000"/>
<rect x="532" y="293" width="2" height="19" fill="#fff"/>
<rect x="537" y="282" width="1" height="19" fill="#000"/>
<rect x="535" y="282" width="4" height="9" fill="#000"/>
<rect x="536" y="283" width="2" height="7" fill="#fff"/>
<rect x="541" y="282" width="1" height="14" fill="#000"/>
<rect x="539" y="283" width="4" height="1" fill="#000"/>
<rect x="545" y="259" width="1" height="23" fill="#000"/>
<rect x="543" y="262" width="4" height="20" fill="#000"/>
<rect x="544" y="263" width="2" height="18" fill="#fff"/>
<rect x="549" y="259" width="1" height="30" fill="#000"/>
<rect x="547" y="261" width="4" height="20" fill="#000"/>
<rect x="553" y="273" width="1" height="18" fill="#000"/>
<rect x="551" y="280" width="4" height="4" fill="#000"/>
<rect x="557" y="273" width="1" height="12" fill="#000"/>
<rect x="555" y="276" width="4" height="6" fill="#000"/>
<rect x="556" y="277" width="2" height="4" fill="#fff"/>
<rect x="561" y="262" width="1" height="16" fill="#000"/>
<rect x="559" y="267" width="4" height="11" fill="#000"/>
<rect x="560" y="268" width="2" height="9" fill="#fff"/>
<rect x="565" y="251" width="1" height="18" fill="#000"/>
<rect x="563" y="251" width="4" height="15" fill="#000"/>
<rect x="564" y="252" width="2" height="13" fill="#fff"/>
<rect x="569" y="241" width="1" height="15" fill="#000"/>
<rect x="567" y="249" width="4" height="1" fill="#000"/>
<rect x="573" y="229" width="1" height="17" fill="#000"/>
<rect x="571" y="229" width="4" height="17" fill="#000"/>
<rect x="572" y="230" width="2" height="15" fill="#fff"/>
<rect x="577" y="226" width="1" height="32" fill="#000"/>
<rect x="575" y="228" width="4" height="16" fill="#000"/>
<rect x="580" y="226" width="1" height="17" fill="#000"/>
<rect x="579" y="231" width="3" height="12" fill="#000"/>
<rect x="580" y="232" width="1" height="10" fill="#fff"/>
<rect x="584" y="213" width="1" height="16" fill="#000"/>
<rect x="582" y="217" width="4" height="12" fill="#000"/>
<rect x="583" y="218" width="2" height="10" fill="#fff"/>
<rect x="588" y="187" width="1" height="26" fill="#000"/>
<rect x="586" y="187" width="4" height="26" fill="#000"/>
<rect x="587" y="188" width="2" height="24" fill="#fff"/>
<rect x="592" y="187" width="1" height="15" fill="#000"/>
<rect x="590" y="187" width="4" height="9" fill="#000"/>
<rect x="596" y="187" width="1" height="23" fill="#000"/>
<rect x="594" y="191" width="4" height="4" fill="#000"/>
<rect x="595" y="192" width="2" height="2" fill="#fff"/>
<rect x="600" y="168" width="1" height="21" fill="#000"/>
<rect x="598" y="177" width="4" height="12" fill="#000"/>
<rect x="599" y="178" width="2" height="10" fill="#fff"/>
<rect x="604" y="165" width="1" height="46" fill="#000"/>
<rect x="602" y="176" width="4" height="29" fill="#000"/>
<rect x="608" y="194" width="1" height="43" fill="#000"/>
<rect x="606" y="203" width="4" height="1" fill="#000"/>
<rect x="612" y="196" width="1" height="24" fill="#000"/>
<rect x="610" y="199" width="4" height="1" fill="#000"/>
<rect x="616" y="189" width="1" height="15" fill="#000"/>
<rect x="614" y="195" width="4" height="4" fill="#000"/>
<rect x="615" y="196" width="2" height="2" fill="#fff"/>
<rect x="620" y="191" width="1" height="14" fill="#000"/>
<rect x="618" y="194" width="4" height="2" fill="#000"/>
<rect x="624" y="181" width="1" height="21" fill="#000"/>
<rect x="622" y="181" width="4" height="16" fill="#000"/>
<rect x="623" y="182" width="2" height="14" fill="#fff"/>
<rect x="628" y="166" width="1" height="18" fill="#000"/>
<rect x="626" y="168" width="4" height="12" fill="#000"/>
<rect x="627" y="169" width="2" height="10" fill="#fff"/>
<rect x="632" y="155" width="1" height="16" fill="#000"/>
<rect x="630" y="155" width="4" height="13" fill="#000"/>
<rect x="631" y="156" width="2" height="11" fill="#fff"/>
<rect x="636" y="151" width="1" height="21" fill="#000"/>
<rect x="634" y="152" width="4" height="3" fill="#000"/>
<rect x="639" y="145" width="1" height="34" fill="#000"/>
<rect x="638" y="154" width="3" height="11" fill="#000"/>
<rect x="643" y="149" width="1" height="30" fill="#000"/>
<rect x="641" y="151" width="4" height="20" fill="#000"/>
<rect x="642" y="152" width="2" height="18" fill="#fff"/>
<rect x="647" y="136" width="1" height="16" fill="#000"/>
<rect x="645" y="143" width="4" height="7" fill="#000"/>
<rect x="646" y="144" width="2" height="5" fill="#fff"/>
<rect x="651" y="129" width="1" height="16" fill="#000"/>
<rect x="649" y="132" width="4" height="11" fill="#000"/>
<rect x="650" y="133" width="2" height="9" fill="#fff"/>
<rect x="655" y="119" width="1" height="19" fill="#000"/>
<rect x="653" y="123" width="4" height="7" fill="#000"/>
<rect x="654" y="124" width="2" height="5" fill="#fff"/>
<rect x="659" y="102" width="1" height="25" fill="#000"/>
<rect x="657" y="122" width="4" height="1" fill="#000"/>
<rect x="663" y="115" width="1" height="47" fill="#000"/>
<rect x="661" y="120" width="4" height="5" fill="#000"/>
<rect x="662" y="121" width="2" height="3" fill="#fff"/>
<rect x="667" y="90" width="1" height="36" fill="#000"/>
<rect x="665" y="94" width="4" height="27" fill="#000"/>
<rect x="666" y="95" width="2" height="25" fill="#fff"/>
<rect x="671" y="69" width="1" height="26" fill="#000"/>
<rect x="669" y="69" width="4" height="24" fill="#000"/>
<rect x="670" y="70" width="2" height="22" fill="#fff"/>
<rect x="675" y="72" width="1" height="36" fill="#000"/>
<rect x="673" y="75" width="4" height="12" fill="#000"/>
<rect x="679" y="76" width="1" height="28" fill="#000"/>
<rect x="677" y="87" width="4" height="3" fill="#000"/>
<rect x="683" y="88" width="1" height="50" fill="#000"/>
<rect x="681" y="88" width="4" height="24" fill="#000"/>
<rect x="687" y="94" width="1" height="32" fill="#000"/>
<rect x="685" y="107" width="4" height="3" fill="#000"/>
<rect x="686" y="108" width="2" height="1" fill="#fff"/>
<rect x="691" y="104" width="1" height="28" fill="#000"/>
<rect x="689" y="108" width="4" height="7" fill="#000"/>
<rect x="695" y="94" width="1" height="20" fill="#000"/>
<rect x="693" y="96" width="4" height="18" fill="#000"/>
<rect x="694" y="97" width="2" height="16" fill="#fff"/>
<rect x="698" y="79" width="1" height="17" fill="#000"/>
<rect x="697" y="89" width="3" height="7" fill="#000"/>
<rect x="698" y="90" width="1" height="5" fill="#fff"/>
<rect x="702" y="89" width="1" height="26" fill="#000"/>
<rect x="700" y="89" width="4" height="23" fill="#000"/>
<rect x="706" y="113" width="1" height="17" fill="#000"/>
<rect x="704" y="116" width="4" height="7" fill="#000"/>
<rect x="710" y="121" width="1" height="26" fill="#000"/>
<rect x="708" y="121" width="4" height="18" fill="#000"/>
<rect x="714" y="140" width="1" height="58" fill="#000"/>
<rect x="712" y="141" width="4" height="33" fill="#000"/>
<rect x="718" y="172" width="1" height="135" fill="#000"/>
<rect x="716" y="177" width="4" height="66" fill="#000"/>
<rect x="722" y="223" width="1" height="96" fill="#000"/>
<rect x="720" y="240" width="4" height="25" fill="#000"/>
<rect x="726" y="233" width="1" height="57" fill="#000"/>
<rect x="724" y="243" width="4" height="30" fill="#000"/>
<rect x="725" y="244" width="2" height="28" fill="#fff"/>
<rect x="730" y="223" width="1" height="59" fill="#000"/>
<rect x="728" y="241" width="4" height="25" fill="#000"/>
<rect x="734" y="241" width="1" height="43" fill="#000"/>
<rect x="732" y="269" width="4" height="12" fill="#000"/>
<rect x="738" y="229" width="1" height="67" fill="#000"/>
<rect x="736" y="245" width="4" height="41" fill="#000"/>
<rect x="737" y="246" width="2" height="39" fill="#fff"/>
<rect x="742" y="208" width="1" height="37" fill="#000"/>
<rect x="740" y="212" width="4" height="33" fill="#000"/>
<rect x="741" y="213" width="2" height="31" fill="#fff"/>
<rect x="746" y="179" width="1" height="33" fill="#000"/>
<rect x="744" y="179" width="4" height="33" fill="#000"/>
<rect x="745" y="180" width="2" height="31" fill="#fff"/>
<rect x="750" y="167" width="1" height="32" fill="#000"/>
<rect x="748" y="171" width="4" height="12" fill="#000"/>
<rect x="754" y="158" width="1" height="40" fill="#000"/>
<rect x="752" y="159" width="4" height="19" fill="#000"/>
<rect x="753" y="160" width="2" height="17" fill="#fff"/>
<rect x="757" y="150" width="1" height="20" fill="#000"/>
<rect x="756" y="153" width="3" height="9" fill="#000"/>
<rect x="761" y="136" width="1" height="31" fill="#000"/>
<rect x="759" y="141" width="4" height="20" fill="#000"/>
<rect x="760" y="142" width="2" height="18" fill="#fff"/>
<rect x="765" y="125" width="1" height="24" fill="#000"/>
<rect x="763" y="141" width="4" height="8" fill="#000"/>
<rect x="769" y="122" width="1" height="27" fill="#000"/>
<rect x="767" y="131" width="4" height="13" fill="#000"/>
<rect x="768" y="132" width="2" height="11" fill="#fff"/>
<rect x="773" y="120" width="1" height="13" fill="#000"/>
<rect x="771" y="124" width="4" height="3" fill="#000"/>
<rect x="772" y="125" width="2" height="1" fill="#fff"/>
<rect x="777" y="113" width="1" height="29" fill="#000"/>
<rect x="775" y="120" width="4" height="22" fill="#000"/>
<rect x="781" y="132" width="1" height="23" fill="#000"/>
<rect x="779" y="138" width="4" height="3" fill="#000"/>
<rect x="780" y="139" width="2" height="1" fill="#fff"/>
<rect x="785" y="120" width="1" height="15" fill="#000"/>
<rect x="783" y="120" width="4" height="15" fill="#000"/>
<rect x="784" y="121" width="2" height="13" fill="#fff"/>
<rect x="789" y="109" width="1" height="15" fill="#000"/>
<rect x="787" y="117" width="4" height="3" fill="#000"/>
<rect x="793" y="119" width="1" height="43" fill="#000"/>
<rect x="791" y="119" width="4" height="25" fill="#000"/>
<rect x="797" y="125" width="1" height="28" fill="#000"/>
<rect x="795" y="145" width="4" height="1" fill="#000"/>
<rect x="801" y="122" width="1" height="28" fill="#000"/>
<rect x="799" y="122" width="4" height="23" fill="#000"/>
<rect x="800" y="123" width="2" height="21" fill="#fff"/>
<rect x="805" y="116" width="1" height="18" fill="#000"/>
<rect x="803" y="118" width="4" height="12" fill="#000"/>
<rect x="809" y="103" width="1" height="23" fill="#000"/>
<rect x="807" y="105" width="4" height="21" fill="#000"/>
<rect x="808" y="106" width="2" height="19" fill="#fff"/>
<rect x="813" y="93" width="1" height="10" fill="#000"/>
<rect x="811" y="98" width="4" height="5" fill="#000"/>
<rect x="812" y="99" width="2" height="3" fill="#fff"/>
<rect x="816" y="86" width="1" height="20" fill="#000"/>
<rect x="815" y="96" width="3" height="8" fill="#000"/>
<rect x="820" y="88" width="1" height="11" fill="#000"/>
<rect x="818" y="88" width="4" height="11" fill="#000"/>
<rect x="819" y="89" width="2" height="9" fill="#fff"/>
<rect x="824" y="85" width="1" height="15" fill="#000"/>
<rect x="822" y="87" width="4" height="11" fill="#000"/>
<rect x="828" y="91" width="1" height="15" fill="#000"/>
<rect x="826" y="95" width="4" height="3" fill="#000"/>
<rect x="832" y="83" width="1" height="23" fill="#000"/>
<rect x="830" y="84" width="4" height="13" fill="#000"/>
<rect x="831" y="85" width="2" height="11" fill="#fff"/>
<rect x="836" y="77" width="1" height="4" fill="#000"/>
<rect x="834" y="77" width="4" height="4" fill="#000"/>
<rect x="835" y="78" width="2" height="2" fill="#fff"/>
<rect x="840" y="76" width="1" height="22" fill="#000"/>
<rect x="838" y="76" width="4" height="9" fill="#000"/>
<rect x="844" y="84" width="1" height="16" fill="#000"/>
<rect x="842" y="85" width="4" height="2" fill="#000"/>
<rect x="848" y="82" width="1" height="13" fill="#000"/>
<rect x="846" y="87" width="4" height="2" fill="#000"/>
<rect x="852" y="86" width="1" height="47" fill="#000"/>
<rect x="850" y="86" width="4" height="26" fill="#000"/>
<rect x="856" y="108" width="1" height="50" fill="#000"/>
<rect x="854" y="111" width="4" height="45" fill="#000"/>
<rect x="860" y="108" width="1" height="60" fill="#000"/>
<rect x="858" y="122" width="4" height="34" fill="#000"/>
<rect x="859" y="123" width="2" height="32" fill="#fff"/>
<rect x="864" y="114" width="1" height="36" fill="#000"/>
<rect x="862" y="127" width="4" height="3" fill="#000"/>
<rect x="863" y="128" width="2" height="1" fill="#fff"/>
<rect x="868" y="123" width="1" height="25" fill="#000"/>
<rect x="866" y="126" width="4" height="10" fill="#000"/>
<rect x="872" y="109" width="1" height="21" fill="#000"/>
<rect x="870" y="113" width="4" height="17" fill="#000"/>
<rect x="871" y="114" width="2" height="15" fill="#fff"/>
<rect x="875" y="97" width="1" height="12" fill="#000"/>
<rect x="874" y="100" width="3" height="9" fill="#000"/>
<rect x="875" y="101" width="1" height="7" fill="#fff"/>
<rect x="879" y="98" width="1" height="15" fill="#000"/>
<rect x="877" y="100" width="4" height="9" fill="#000"/>
<rect x="883" y="103" width="1" height="16" fill="#000"/>
<rect x="881" y="109" width="4" height="3" fill="#000"/>
<rect x="887" y="109" width="1" height="34" fill="#000"/>
<rect x="885" y="111" width="4" height="27" fill="#000"/>
<rect x="891" y="124" width="1" height="21" fill="#000"/>
<rect x="889" y="126" width="4" height="16" fill="#000"/>
<rect x="890" y="127" width="2" height="14" fill="#fff"/>
<rect x="895" y="122" width="1" height="17" fill="#000"/>
<rect x="893" y="125" width="4" height="1" fill="#000"/>
<rect x="899" y="116" width="1" height="14" fill="#000"/>
<rect x="897" y="124" width="4" height="1" fill="#000"/>
<rect x="903" y="106" width="1" height="24" fill="#000"/>
<rect x="901" y="114" width="4" height="11" fill="#000"/>
<rect x="902" y="115" width="2" height="9" fill="#fff"/>
<rect x="907" y="109" width="1" height="9" fill="#000"/>
<rect x="905" y="113" width="4" height="3" fill="#000"/>
<rect x="911" y="111" width="1" height="12" fill="#000"/>
<rect x="909" y="111" width="4" height="3" fill="#000"/>
<rect x="910" y="112" width="2" height="1" fill="#fff"/>
<rect x="915" y="96" width="1" height="16" fill="#000"/>
<rect x="913" y="96" width="4" height="15" fill="#000"/>
<rect x="914" y="97" width="2" height="13" fill="#fff"/>
<rect x="919" y="91" width="1" height="7" fill="#000"/>
<rect x="917" y="93" width="4" height="5" fill="#000"/>
<rect x="923" y="96" width="1" height="10" fill="#000"/>
<rect x="921" y="96" width="4" height="7" fill="#000"/>
<rect x="927" y="97" width="1" height="14" fill="#000"/>
<rect x="925" y="103" width="4" height="1" fill="#000"/>
<rect x="931" y="101" width="1" height="15" fill="#000"/>
<rect x="929" y="102" width="4" height="4" fill="#000"/>
<rect x="930" y="103" width="2" height="2" fill="#fff"/>
<rect x="935" y="98" width="1" height="16" fill="#000"/>
<rect x="933" y="102" width="4" height="12" fill="#000"/>
<rect x="938" y="109" width="1" height="34" fill="#000"/>
<rect x="937" y="113" width="3" height="12" fill="#000"/>
<rect x="942" y="116" width="1" height="19" fill="#000"/>
<rect x="940" y="122" width="4" height="3" fill="#000"/>
<rect x="941" y="123" width="2" height="1" fill="#fff"/>
<rect x="946" y="116" width="1" height="18" fill="#000"/>
<rect x="944" y="120" width="4" height="9" fill="#000"/>
<rect x="950" y="99" width="1" height="29" fill="#000"/>
<rect x="948" y="113" width="4" height="12" fill="#000"/>
<rect x="949" y="114" width="2" height="10" fill="#fff"/>
<rect x="954" y="95" width="1" height="17" fill="#000"/>
<rect x="952" y="103" width="4" height="9" fill="#000"/>
<rect x="953" y="104" width="2" height="7" fill="#fff"/>
<rect x="958" y="100" width="1" height="16" fill="#000"/>
<rect x="956" y="102" width="4" height="2" fill="#000"/>
<rect x="962" y="104" width="1" height="11" fill="#000"/>
<rect x="960" y="104" width="4" height="1" fill="#000"/>
<rect x="966" y="109" width="1" height="21" fill="#000"/>
<rect x="964" y="109" width="4" height="17" fill="#000"/>
<rect x="970" y="118" width="1" height="15" fill="#000"/>
<rect x="968" y="118" width="4" height="9" fill="#000"/>
<rect x="969" y="119" width="2" height="7" fill="#fff"/>
<rect x="974" y="109" width="1" height="17" fill="#000"/>
<rect x="972" y="109" width="4" height="14" fill="#000"/>
<rect x="973" y="110" width="2" height="12" fill="#fff"/>
<rect x="978" y="101" width="1" height="12" fill="#000"/>
<rect x="976" y="107" width="4" height="1" fill="#000"/>
<rect x="982" y="101" width="1" height="8" fill="#000"/>
<rect x="980" y="101" width="4" height="8" fill="#000"/>
<rect x="981" y="102" width="2" height="6" fill="#fff"/>
<rect x="986" y="94" width="1" height="8" fill="#000"/>
<rect x="984" y="94" width="4" height="6" fill="#000"/>
<rect x="985" y="95" width="2" height="4" fill="#fff"/>
<rect x="990" y="86" width="1" height="8" fill="#000"/>
<rect x="988" y="92" width="4" height="2" fill="#000"/>
<rect x="994" y="83" width="1" height="14" fill="#000"/>
<rect x="992" y="86" width="4" height="6" fill="#000"/>
<rect x="993" y="87" width="2" height="4" fill="#fff"/>
<rect x="997" y="83" width="1" height="22" fill="#000"/>
<rect x="996" y="86" width="3" height="19" fill="#000"/>
<rect x="1001" y="99" width="1" height="17" fill="#000"/>
<rect x="999" y="102" width="4" height="3" fill="#000"/>
<rect x="1000" y="103" width="2" height="1" fill="#fff"/>
<rect x="1005" y="99" width="1" height="10" fill="#000"/>
<rect x="1003" y="102" width="4" height="2" fill="#000"/>
<rect x="1009" y="107" width="1" height="23" fill="#000"/>
<rect x="1007" y="107" width="4" height="8" fill="#000"/>
<rect x="1013" y="103" width="1" height="21" fill="#000"/>
<rect x="1011" y="114" width="4" height="1" fill="#000"/>
<rect x="1017" y="105" width="1" height="11" fill="#000"/>
<rect x="1015" y="105" width="4" height="8" fill="#000"/>
<rect x="1016" y="106" width="2" height="6" fill="#fff"/>
<rect x="1021" y="106" width="1" height="16" fill="#000"/>
<rect x="1019" y="106" width="4" height="3" fill="#000"/>
<rect x="1025" y="87" width="1" height="21" fill="#000"/>
<rect x="1023" y="94" width="4" height="14" fill="#000"/>
<rect x="1024" y="95" width="2" height="12" fill="#fff"/>
<rect x="1029" y="91" width="1" height="13" fill="#000"/>
<rect x="1027" y="93" width="4" height="11" fill="#000"/>
<rect x="1033" y="103" width="1" height="8" fill="#000"/>
<rect x="1031" y="103" width="4" height="8" fill="#000"/>
<rect x="1037" y="109" width="1" height="22" fill="#000"/>
<rect x="1035" y="109" width="4" height="17" fill="#000"/>
<rect x="1041" y="128" width="1" height="46" fill="#000"/>
<rect x="1039" y="128" width="4" height="18" fill="#000"/>
<rect x="1045" y="136" width="1" height="26" fill="#000"/>
<rect x="1043" y="153" width="4" height="1" fill="#000"/>
<rect x="1049" y="129" width="1" height="22" fill="#000"/>
<rect x="1047" y="139" width="4" height="12" fill="#000"/>
<rect x="1048" y="140" width="2" height="10" fill="#fff"/>
<rect x="1053" y="130" width="1" height="20" fill="#000"/>
<rect x="1051" y="138" width="4" height="7" fill="#000"/>
<rect x="1056" y="144" width="1" height="19" fill="#000"/>
<rect x="1055" y="144" width="3" height="11" fill="#000"/>
<rect x="1060" y="160" width="1" height="30" fill="#000"/>
<rect x="1058" y="160" width="4" height="7" fill="#000"/>
<rect x="1064" y="162" width="1" height="19" fill="#000"/>
<rect x="1062" y="167" width="4" height="3" fill="#000"/>
<rect x="1063" y="168" width="2" height="1" fill="#fff"/>
<rect x="1068" y="138" width="1" height="25" fill="#000"/>
<rect x="1066" y="140" width="4" height="23" fill="#000"/>
<rect x="1067" y="141" width="2" height="21" fill="#fff"/>
<rect x="1072" y="133" width="1" height="18" fill="#000"/>
<rect x="1070" y="139" width="4" height="6" fill="#000"/>
<rect x="1071" y="140" width="2" height="4" fill="#fff"/>
<rect x="1076" y="139" width="1" height="18" fill="#000"/>
<rect x="1074" y="139" width="4" height="9" fill="#000"/>
<rect x="1080" y="135" width="1" height="20" fill="#000"/>
<rect x="1078" y="138" width="4" height="11" fill="#000"/>
<rect x="1079" y="139" width="2" height="9" fill="#fff"/>
<rect x="1084" y="125" width="1" height="20" fill="#000"/>
<rect x="1082" y="125" width="4" height="10" fill="#000"/>
<rect x="1083" y="126" width="2" height="8" fill="#fff"/>
<rect x="1088" y="114" width="1" height="15" fill="#000"/>
<rect x="1086" y="123" width="4" height="3" fill="#000"/>
<rect x="1087" y="124" width="2" height="1" fill="#fff"/>
<rect x="1092" y="112" width="1" height="17" fill="#000"/>
<rect x="1090" y="118" width="4" height="5" fill="#000"/>
<rect x="1091" y="119" width="2" height="3" fill="#fff"/>
<rect x="1096" y="113" width="1" height="7" fill="#000"/>
<rect x="1094" y="117" width="4" height="3" fill="#000"/>
<rect x="1100" y="116" width="1" height="24" fill="#000"/>
<rect x="1098" y="119" width="4" height="12" fill="#000"/>
<rect x="1104" y="124" width="1" height="14" fill="#000"/>
<rect x="1102" y="130" width="4" height="1" fill="#000"/>
<rect x="1108" y="117" width="1" height="11" fill="#000"/>
<rect x="1106" y="117" width="4" height="11" fill="#000"/>
<rect x="1107" y="118" width="2" height="9" fill="#fff"/>
<rect x="1112" y="112" width="1" height="5" fill="#000"/>
<rect x="1110" y="112" width="4" height="4" fill="#000"/>
<rect x="1111" y="113" width="2" height="2" fill="#fff"/>
<rect x="1115" y="100" width="1" height="15" fill="#000"/>
<rect x="1114" y="105" width="3" height="6" fill="#000"/>
<rect x="1115" y="106" width="1" height="4" fill="#fff"/>
<rect x="1119" y="98" width="1" height="10" fill="#000"/>
<rect x="1117" y="101" width="4" height="3" fill="#000"/>
<rect x="1118" y="102" width="2" height="1" fill="#fff"/>
<rect x="1123" y="94" width="1" height="8" fill="#000"/>
<rect x="1121" y="94" width="4" height="6" fill="#000"/>
<rect x="1122" y="95" width="2" height="4" fill="#fff"/>
<rect x="1127" y="89" width="1" height="7" fill="#000"/>
<rect x="1125" y="91" width="4" height="3" fill="#000"/>
<rect x="1126" y="92" width="2" height="1" fill="#fff"/>
<rect x="1131" y="79" width="1" height="16" fill="#000"/>
<rect x="1129" y="79" width="4" height="12" fill="#000"/>
<rect x="1130" y="80" width="2" height="10" fill="#fff"/>
<rect x="1135" y="72" width="1" height="13" fill="#000"/>
<rect x="1133" y="73" width="4" height="4" fill="#000"/>
<rect x="1134" y="74" width="2" height="2" fill="#fff"/>
<rect x="1139" y="68" width="1" height="10" fill="#000"/>
<rect x="1137" y="73" width="4" height="1" fill="#000"/>
<rect x="1143" y="63" width="1" height="10" fill="#000"/>
<rect x="1141" y="67" width="4" height="6" fill="#000"/>
<rect x="1142" y="68" width="2" height="4" fill="#fff"/>
<rect x="1147" y="58" width="1" height="13" fill="#000"/>
<rect x="1145" y="64" width="4" height="4" fill="#000"/>
<rect x="1151" y="58" width="1" height="15" fill="#000"/>
<rect x="1149" y="58" width="4" height="10" fill="#000"/>
<rect x="1150" y="59" width="2" height="8" fill="#fff"/>
<rect x="1155" y="36" width="1" height="19" fill="#000"/>
<rect x="1153" y="41" width="4" height="14" fill="#000"/>
<rect x="1154" y="42" width="2" height="12" fill="#fff"/>
<rect x="1159" y="42" width="1" height="27" fill="#000"/>
<rect x="1157" y="42" width="4" height="12" fill="#000"/>
<rect x="1163" y="43" width="1" height="18" fill="#000"/>
<rect x="1161" y="52" width="4" height="1" fill="#000"/>
<rect x="1167" y="53" width="1" height="11" fill="#000"/>
<rect x="1165" y="53" width="4" height="7" fill="#000"/>
<rect x="1171" y="55" width="1" height="11" fill="#000"/>
<rect x="1169" y="61" width="4" height="5" fill="#000"/>
<rect x="1174" y="58" width="1" height="25" fill="#000"/>
<rect x="1173" y="63" width="3" height="14" fill="#000"/>
<rect x="1178" y="68" width="1" height="12" fill="#000"/>
<rect x="1176" y="68" width="4" height="12" fill="#000"/>
<rect x="1177" y="69" width="2" height="10" fill="#fff"/>
<rect x="1182" y="70" width="1" height="18" fill="#000"/>
<rect x="1180" y="70" width="4" height="8" fill="#000"/>
<rect x="1186" y="75" width="1" height="17" fill="#000"/>
<rect x="1184" y="79" width="4" height="3" fill="#000"/>
<rect x="1185" y="80" width="2" height="1" fill="#fff"/>
<rect x="1190" y="77" width="1" height="31" fill="#000"/>
<rect x="1188" y="77" width="4" height="23" fill="#000"/>
<rect x="1194" y="85" width="1" height="15" fill="#000"/>
<rect x="1192" y="89" width="4" height="7" fill="#000"/>
<rect x="1193" y="90" width="2" height="5" fill="#fff"/>
<rect x="1198" y="82" width="1" height="20" fill="#000"/>
<rect x="1196" y="82" width="4" height="14" fill="#000"/>
<rect x="1202" y="95" width="1" height="7" fill="#000"/>
<rect x="1200" y="99" width="4" height="2" fill="#000"/>
</g>
<g stroke="#ff00ff" stroke-width="1.15" fill="none" stroke-linecap="butt">
<line x1="183.5" y1="378.45" x2="1168" y2="31.55"/>
<line x1="230" y1="525.8" x2="1219" y2="185.5"/>
<line x1="663.5" y1="68.7" x2="1210.5" y2="91.5"/>
</g>
<g stroke="#ff00ff" stroke-width="1.25" fill="none" stroke-dasharray="2.1 3.9">
<line x1="203.5" y1="463.3" x2="1209" y2="117.9"/>
<line x1="663.5" y1="139.0" x2="1199" y2="155.4"/>
<line x1="600" y1="175.8" x2="1172" y2="197.3"/>
</g>
<ellipse cx="1153.5" cy="42" rx="14.5" ry="17" fill="#f400ee" fill-opacity="0.23" stroke="#f400ee" stroke-opacity="0.3" stroke-width="1"/>
<path d="M1206.5 99.5 L1211.5 94.5 H1239.5 V105.5 H1211.5 Z" fill="#fff" stroke="#000" stroke-width="1"/>
<text x="1211.5" y="103.7" font-family="Liberation Serif, serif" font-weight="bold" font-size="11.2" letter-spacing="0.45" fill="#000" stroke="#000" stroke-width="0.3">38.45</text>
<path d="M1201 19.6 H1208.4 L1204.7 24 Z" fill="#000"/>
<g font-family="Liberation Sans, Arial, sans-serif" fill="#000">
<text x="17" y="13.2" font-size="12" font-weight="bold" letter-spacing="-0.25">EEM</text>
<text x="46" y="13.2" font-size="10" letter-spacing="0.2">iShares MSCI Emerging Markets ETF</text>
<text x="225.3" y="13.2" font-size="8.5" letter-spacing="1">NYSE</text>
<text x="16" y="25" font-size="10" letter-spacing="0.25">3-Jan-2019</text>
<text x="1208" y="12.6" font-size="9.6" fill="#3a3a3a" letter-spacing="0.38" text-anchor="end">&#169; StockCharts.com</text>
<text x="765.8" y="25.5" font-size="11.3" font-weight="bold">Open</text>
<text x="797.7" y="25.5" font-size="9.4" letter-spacing="0.7">38.59</text>
<text x="830.6" y="25.5" font-size="11.3" font-weight="bold">High</text>
<text x="857.7" y="25.5" font-size="9.4" letter-spacing="0.7">39.19</text>
<text x="890.6" y="25.5" font-size="11.3" font-weight="bold">Low</text>
<text x="917.7" y="25.5" font-size="9.4" letter-spacing="0.7">38.30</text>
<text x="950.6" y="25.5" font-size="11.3" font-weight="bold">Close</text>
<text x="985.5" y="25.5" font-size="9.4" letter-spacing="0.7">38.45</text>
<text x="1019.4" y="25.5" font-size="11.3" font-weight="bold">Volume</text>
<text x="1065.8" y="25.5" font-size="9.4" letter-spacing="0.7">120.0M</text>
<text x="1106.8" y="25.5" font-size="11.3" font-weight="bold">Chg</text>
<text x="1131.6" y="25.5" font-size="9.4" letter-spacing="0.5">-0.61 (-1.56%)</text>
</g>
</svg>
<div class="t" id="title">INVESTINGHAVEN.COM</div>
<div id="note">
<div class="ln" style="top:71px;letter-spacing:-0.235px">Emerging stock markets corrected 26% from their all-time</div>
<div class="ln" style="top:93px;letter-spacing:-0.196px">high in January of 2018. As said before: &quot;In case 40 does</div>
<div class="ln" style="top:115px;letter-spacing:-0.300px">not hold it will correct to 36 or 31 in which case 40-45 will be</div>
<div class="ln" style="top:137px;letter-spacing:-0.242px">our 2019 forecast.&quot; Clearly, emerging markets will fall to 36</div>
<div class="ln" style="top:159px;letter-spacing:-0.260px">points, and, most likely, 31 points, where major support sits!</div>
<div class="ln" style="top:181px;letter-spacing:-0.309px">In Jan 2019 we see a move underway to the first downside</div>
<div class="ln" style="top:203px;letter-spacing:-0.266px">target being 36 points, 5% below current levels.</div>
</div>
</body></html>
